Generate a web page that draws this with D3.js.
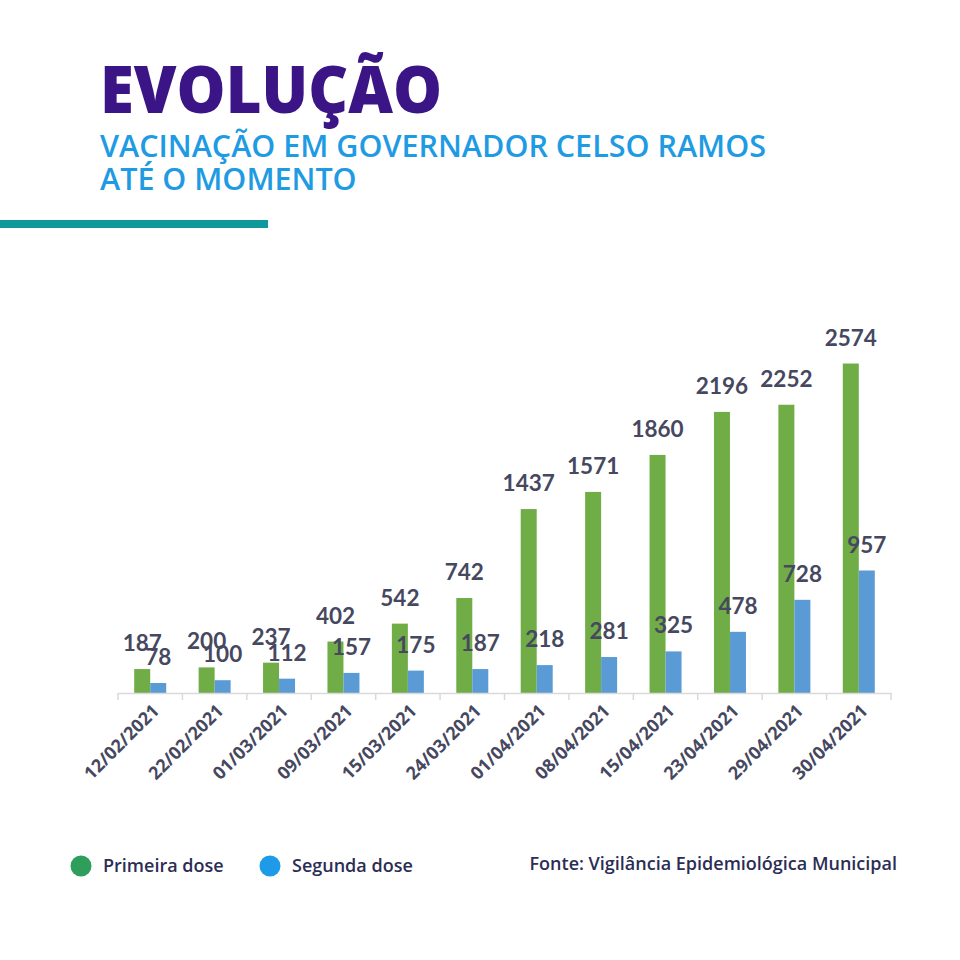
<!DOCTYPE html>
<html>
<head>
<meta charset="utf-8">
<script src="https://cdn.jsdelivr.net/npm/d3@7"></script>
<style>
  html, body { margin: 0; padding: 0; background: #fff; }
  svg { display: block; }
</style>
</head>
<body>
<svg width="960" height="960"></svg>
<script>
// Chart data
const dates = ["12/02/2021", "22/02/2021", "01/03/2021", "09/03/2021", "15/03/2021", "24/03/2021",
               "01/04/2021", "08/04/2021", "15/04/2021", "23/04/2021", "29/04/2021", "30/04/2021"];
const primeiraDose = [187, 200, 237, 402, 542, 742, 1437, 1571, 1860, 2196, 2252, 2574];
const segundaDose = [78, 100, 112, 157, 175, 187, 218, 281, 325, 478, 728, 957];
const seriesNames = ["Primeira dose", "Segunda dose"];

const labelColor = "#46485f";
const navy = "#2b2d55";

const svg = d3.select("svg");

// Header
svg.append("text")
    .attr("x", 100)
    .attr("y", 113)
    .attr("font-family", "Open Sans")
    .attr("font-weight", 800)
    .attr("font-size", 66)
    .attr("textLength", 342)
    .attr("lengthAdjust", "spacingAndGlyphs")
    .attr("fill", "#3b1486")
    .text("EVOLUÇÃO");

svg.append("text")
    .attr("x", 100)
    .attr("y", 157)
    .attr("font-family", "Open Sans")
    .attr("font-weight", 600)
    .attr("font-size", 30.5)
    .attr("fill", "#1f9be3")
    .text("VACINAÇÃO EM GOVERNADOR CELSO RAMOS");

svg.append("text")
    .attr("x", 100)
    .attr("y", 190)
    .attr("font-family", "Open Sans")
    .attr("font-weight", 600)
    .attr("font-size", 30.5)
    .attr("fill", "#1f9be3")
    .text("ATÉ O MOMENTO");

svg.append("rect")
    .attr("x", 0)
    .attr("y", 220)
    .attr("width", 268)
    .attr("height", 8)
    .attr("fill", "#10999a");

// Scales
const x = d3.scaleBand()
    .domain(dates)
    .range([118, 891])
    .paddingInner(0)
    .paddingOuter(0);

const xInner = d3.scaleBand()
    .domain(seriesNames)
    .range([x.bandwidth() / 2 - 16, x.bandwidth() / 2 + 16]);

const y = d3.scaleLinear()
    .domain([0, 3000])
    .range([693, 309]);

const rows = dates.map((d, i) => ({
    date: d,
    values: [
        { name: seriesNames[0], value: primeiraDose[i] },
        { name: seriesNames[1], value: segundaDose[i] }
    ]
}));

const color = d3.scaleOrdinal()
    .domain(seriesNames)
    .range(["#70ad47", "#5b9bd5"]);

const groups = svg.append("g")
    .selectAll("g")
    .data(rows)
    .join("g")
    .attr("transform", d => `translate(${x(d.date)},0)`);

groups.selectAll("rect")
    .data(d => d.values)
    .join("rect")
    .attr("x", d => xInner(d.name))
    .attr("y", d => y(d.value))
    .attr("width", xInner.bandwidth())
    .attr("height", d => y(0) - y(d.value))
    .attr("fill", d => color(d.name));

// Value labels
groups.selectAll("text")
    .data(d => d.values)
    .join("text")
    .attr("x", d => xInner(d.name) + xInner.bandwidth() / 2)
    .attr("y", d => y(d.value) - 18)
    .attr("text-anchor", "middle")
    .attr("font-family", "Lato")
    .attr("font-weight", 700)
    .attr("font-size", 22.5)
    .attr("fill", labelColor)
    .text(d => d.value);

// X axis
const xAxis = svg.append("g")
    .attr("transform", `translate(0,${y(0)})`)
    .call(d3.axisBottom(x).tickSizeInner(0).tickSizeOuter(0).tickFormat(""));

xAxis.select(".domain").attr("stroke", "#d9d9d9").attr("stroke-width", 1.5);

// Excel-style ticks between categories
svg.append("g")
    .selectAll("line")
    .data(dates.concat(["end"]))
    .join("line")
    .attr("x1", (d, i) => i < dates.length ? x(d) : x.range()[1])
    .attr("x2", (d, i) => i < dates.length ? x(d) : x.range()[1])
    .attr("y1", y(0))
    .attr("y2", y(0) + 7)
    .attr("stroke", "#d9d9d9")
    .attr("stroke-width", 1.5);

svg.append("g")
    .selectAll("text")
    .data(dates)
    .join("text")
    .attr("transform", d => `translate(${x(d) + x.bandwidth() / 2 + 10},${y(0) + 19}) rotate(-45)`)
    .attr("text-anchor", "end")
    .attr("font-family", "Open Sans")
    .attr("font-weight", 700)
    .attr("font-size", 18)
    .attr("fill", labelColor)
    .text(d => d);

// Legend
const legend = svg.append("g");
const legendItems = [
    { name: seriesNames[0], cx: 81, fill: "#2e9e5b" },
    { name: seriesNames[1], cx: 270, fill: "#1e9be8" }
];

legend.selectAll("circle")
    .data(legendItems)
    .join("circle")
    .attr("cx", d => d.cx)
    .attr("cy", 866)
    .attr("r", 10.5)
    .attr("fill", d => d.fill);

legend.selectAll("text")
    .data(legendItems)
    .join("text")
    .attr("x", d => d.cx + 22)
    .attr("y", 872)
    .attr("font-family", "Open Sans")
    .attr("font-weight", 600)
    .attr("font-size", 18)
    .attr("fill", navy)
    .text(d => d.name);

svg.append("text")
    .attr("x", 897)
    .attr("y", 870)
    .attr("text-anchor", "end")
    .attr("font-family", "Open Sans")
    .attr("font-weight", 600)
    .attr("font-size", 18)
    .attr("fill", navy)
    .text("Fonte: Vigilância Epidemiológica Municipal");
</script>
</body>
</html>
